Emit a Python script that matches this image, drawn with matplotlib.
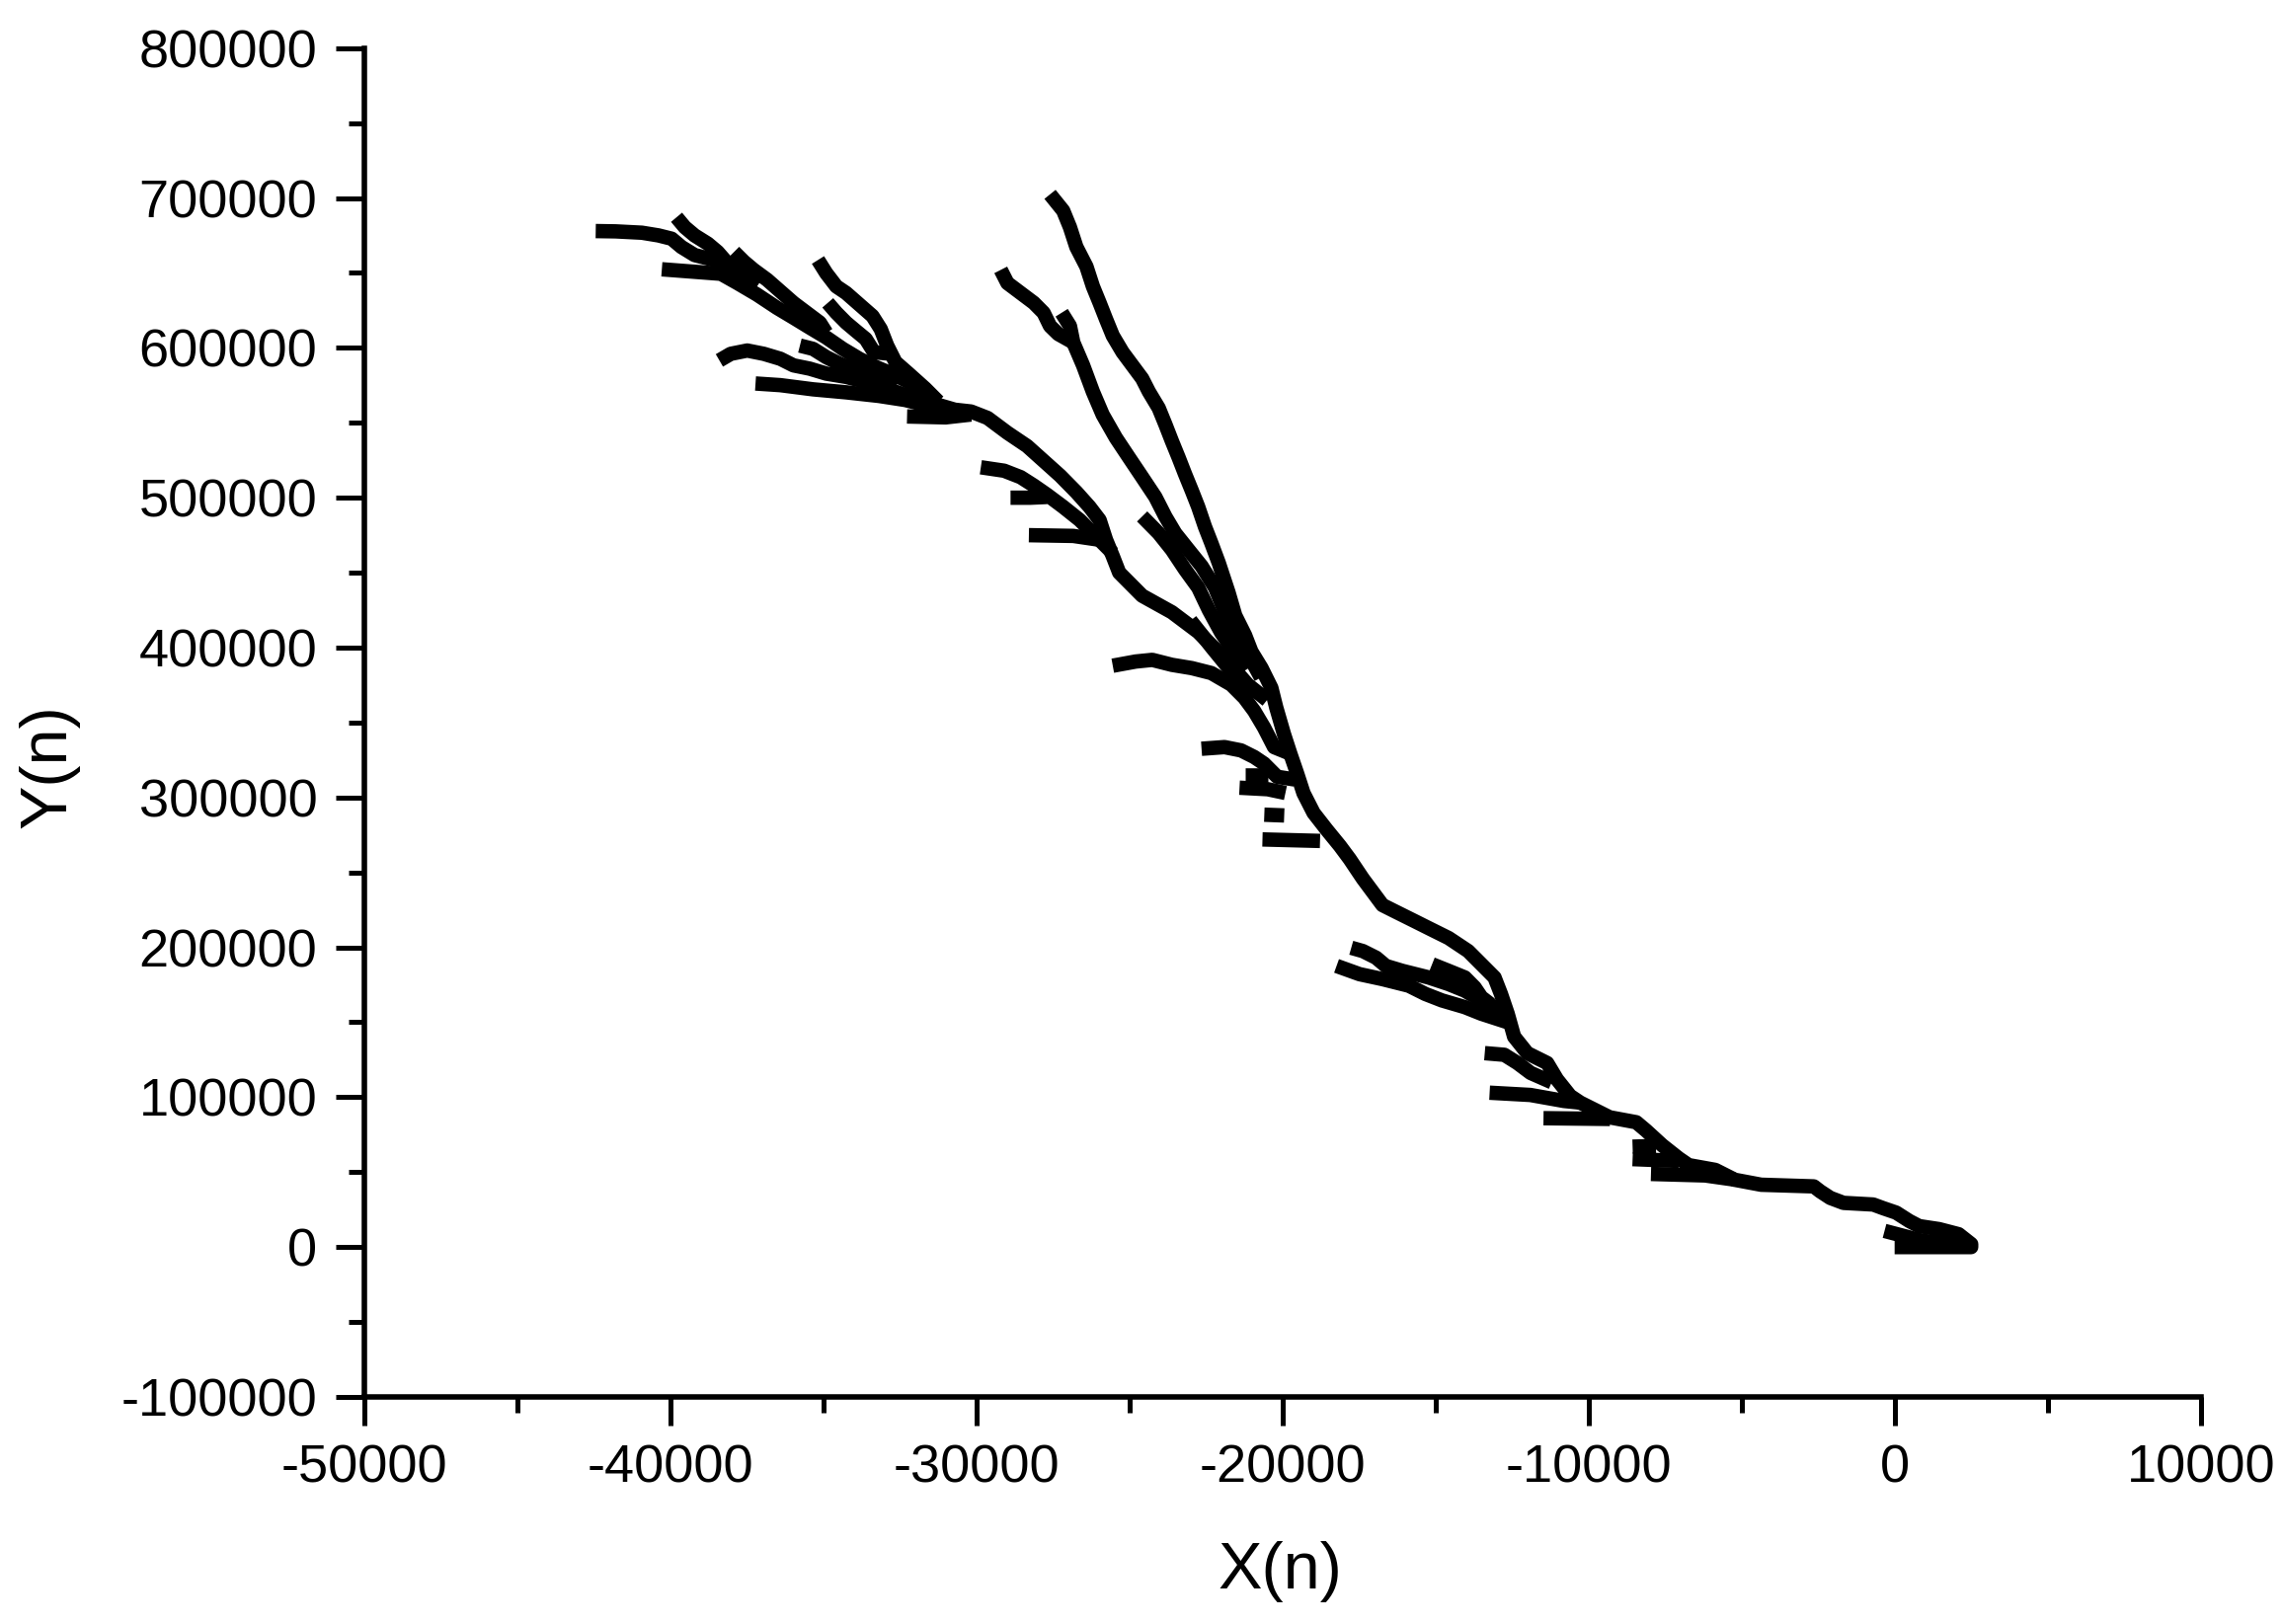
import matplotlib
matplotlib.use("Agg")
import matplotlib.pyplot as plt
from matplotlib.ticker import MultipleLocator, FuncFormatter

plt.rcParams['font.family'] = ['Liberation Sans', 'DejaVu Sans']
plt.rcParams['axes.unicode_minus'] = False

# main trunk, from the origin up to the top tip
trunk_x = [0, 2500, 2500, 2090, 1450, 800, 480, 50, -380, -700, -1670, -2100, -2430, -2640,
           -4360, -5220, -5860, -6730, -7050, -7590, -8120, -8440, -9310, -10270, -10600,
           -11030, -11350, -12000, -12430, -12640, -12860, -13070, -13500, -13930, -14570,
           -15220, -15650, -16300, -16730, -17050, -17370, -17800, -18120, -18560, -18980,
           -19310, -19520, -19740, -19950, -20200, -20360, -20680, -21010, -21220, -21540,
           -21760, -22080, -22320, -22530, -22750, -22960, -23180, -23390, -23610, -23820,
           -24040, -24360, -24580, -24900, -25220, -25540, -25760, -25970, -26190, -26400,
           -26730, -26940, -27160, -27590]
trunk_y = [0, 0, 2000, 8600, 12000, 14000, 17400, 23000, 26000, 28400, 29500, 32800, 37200, 40500,
           41600, 44900, 51500, 54700, 59200, 67900, 77800, 83300, 86600, 96400, 100900,
           111900, 122800, 129400, 140400, 155700, 168900, 179900, 188700, 197500, 206200,
           212800, 217200, 223800, 228200, 237000, 245800, 258900, 267700, 278700, 289700,
           302900, 316100, 329200, 342400, 360000, 373100, 386300, 397300, 408300, 421400,
           436800, 456600, 469700, 480700, 493900, 504800, 515800, 526800, 537800, 548800,
           559800, 570700, 579500, 588300, 597100, 608100, 619100, 630000, 641000, 654200,
           667300, 680500, 691500, 702400]

# long left limb
limb_x = [-40270, -38340, -37800, -37160, -36510, -35970, -35440, -34900, -34360, -33820, -33280,
          -32640, -32100, -31670, -31240, -30700, -30170, -29630, -28980, -28340, -27800, -27260,
          -26730, -26300, -25970, -25760, -25540, -25330, -24580, -23610, -22750, -21890, -21130,
          -20500]
limb_y = [652400, 649400, 643200, 635500, 626700, 620100, 613500, 606900, 599300, 592700, 587200,
          581700, 576200, 569700, 561900, 558700, 557500, 553200, 543300, 534500, 524600, 514700,
          503700, 493900, 485100, 471900, 461000, 450000, 434600, 423600, 410400, 392900, 375300,
          365000]

l1_x = [-42430, -41780, -40920, -40380, -39950, -39630, -39200, -38560, -38020, -37300]
l1_y = [677900, 677700, 676800, 675000, 672800, 667300, 661900, 658600, 654200, 641000]

l2_x = [-39790, -39520, -39200, -38770, -38450, -38120, -37800, -37160]
l2_y = [687100, 680500, 675000, 669500, 664000, 656300, 649800, 641000]

l3_x = [-37910, -37590, -37270, -36830, -36400, -35970, -35540, -35110, -34900]
l3_y = [664000, 657500, 652000, 645400, 637700, 630000, 623400, 616800, 610000]

l4_x = [-35170, -34900, -34570, -34250, -33820, -33390, -33120, -32910, -32640, -32210, -31670, -31240]
l4_y = [658600, 649800, 641000, 636600, 628900, 621200, 612500, 601500, 590500, 582800, 572900, 564100]

l5_x = [-34850, -34570, -34250, -33930, -33610, -33340, -32780]
l5_y = [630000, 623400, 616800, 611300, 605900, 597100, 596000]

l6_x = [-38390, -38020, -37480, -36940, -36400, -35970, -35440, -34900, -34250, -33610, -32960,
        -32320, -31670]
l6_y = [591600, 596000, 598200, 596000, 592700, 588300, 586100, 582800, 580600, 577300, 572900,
        568500, 566000]

l7_x = [-35760, -35330, -34900, -34470, -33930, -33390, -32600]
l7_y = [601500, 599300, 593800, 589400, 585000, 581700, 575000]

l8_x = [-37210, -36400, -35330, -34250, -33180, -32320, -31670, -31030]
l8_y = [576200, 575100, 572300, 570300, 567900, 565200, 561900, 559800]

band2_x = [-29850, -29090, -28550, -28120, -27690, -27160, -26620, -26190, -25540]
band2_y = [520300, 518000, 513700, 508100, 502000, 493900, 485100, 476300, 463000]

b_x = [-27210, -26940, -26830, -26510, -26190, -25870, -25440, -25010, -24580, -24150, -23820,
       -23500, -23070, -22640, -22200, -21900, -21500, -21100, -20700]
b_y = [623400, 614600, 603600, 588300, 570700, 555400, 540000, 526800, 513700, 500500, 487300,
       476300, 465300, 454400, 440000, 425000, 410000, 395000, 380000]

c_x = [-29200, -28980, -28550, -28120, -27800, -27590, -27320, -26830]
c_y = [652000, 643200, 636600, 630000, 623400, 614600, 609200, 603600]

d_x = [-24580, -24040, -23610, -23180, -22750, -22400, -22000, -21600, -21200]
d_y = [487500, 476300, 465300, 452100, 440000, 425000, 410000, 398000, 385000]

e_x = [-23000, -22300, -21700, -20900]
e_y = [418000, 400000, 385000, 368000]

m1_x = [-25540, -24790, -24250, -23610, -22960, -22320, -21670, -21240, -20920, -20600, -20270, -19740]
m1_y = [387900, 390700, 391800, 388500, 386300, 383000, 375300, 366500, 357700, 346700, 333600, 329200]

m2_x = [-22640, -21890, -21350, -20920, -20600, -20170, -19600]
m2_y = [332500, 333600, 331400, 327000, 322600, 313800, 312000]

n1a_x = [-17750, -17370, -16940, -16620, -16080, -15650, -15220, -14570, -14040, -13500, -13070, -12640]
n1a_y = [199700, 197500, 193100, 187600, 184300, 182100, 179900, 175500, 171100, 164600, 160100, 155700]

n1b_x = [-18230, -17480, -16730, -15870, -15330, -14790, -14040, -13500, -12640]
n1b_y = [187600, 182100, 178800, 174400, 168900, 164600, 160100, 155700, 150000]

n2_x = [-15110, -14570, -14040, -13720, -13500, -13200]
n2_y = [188700, 184300, 179900, 173300, 166700, 162000]

n3_x = [-13390, -12750, -12320, -11890, -11200]
n3_y = [129400, 128300, 122800, 116200, 110000]

# short side stubs
stubs_x = [[-32260, -31000, -30170], [-28880, -28230, -27690], [-28280, -26830, -26000],
           [-21230, -20480], [-21400, -20480, -19900], [-20590, -19940], [-20650, -18770],
           [-13230, -11900, -10800, -10270], [-11470, -9300], [-8560, -7800],
           [-8560, -7050], [-7960, -6190, -5220], [-330, 900, 2200]]
stubs_y = [[554200, 553600, 555500], [500000, 500000, 500500], [475000, 474500, 472000],
           [315000, 315000], [306500, 305500, 303000], [288500, 288000], [272000, 271000],
           [103000, 101500, 97500, 96400], [86000, 85500], [67000, 67500],
           [58700, 57500], [48800, 47800, 45000], [10800, 4200, 1500]]

fig = plt.figure(figsize=(23.11, 16.45), dpi=100)
ax = fig.add_axes([0.1595, 0.1398, 0.8049, 0.8306])

style = dict(color='black', linewidth=10.5, solid_capstyle='butt', solid_joinstyle='round')
branches = [(trunk_x, trunk_y), (limb_x, limb_y), (l1_x, l1_y), (l2_x, l2_y), (l3_x, l3_y),
            (l4_x, l4_y), (l5_x, l5_y), (l6_x, l6_y), (l7_x, l7_y), (l8_x, l8_y),
            (band2_x, band2_y), (b_x, b_y), (c_x, c_y), (d_x, d_y), (e_x, e_y),
            (m1_x, m1_y), (m2_x, m2_y),
            (n1a_x, n1a_y), (n1b_x, n1b_y), (n2_x, n2_y), (n3_x, n3_y)]
branches += list(zip(stubs_x, stubs_y))
for bx, by in branches:
    ax.plot(bx, by, **style)

ax.set_xlim(-50000, 10000)
ax.set_ylim(-100000, 800000)
ax.xaxis.set_major_locator(MultipleLocator(10000))
ax.xaxis.set_minor_locator(MultipleLocator(5000))
ax.yaxis.set_major_locator(MultipleLocator(100000))
ax.yaxis.set_minor_locator(MultipleLocator(50000))
fmt = FuncFormatter(lambda v, p: '%d' % v)
ax.xaxis.set_major_formatter(fmt)
ax.yaxis.set_major_formatter(fmt)

for side in ['top', 'right']:
    ax.spines[side].set_visible(False)
for side in ['left', 'bottom']:
    ax.spines[side].set_linewidth(4)

ax.tick_params(which='major', direction='out', length=21, width=3.6, labelsize=39, pad=13)
ax.tick_params(which='minor', direction='out', length=11.5, width=3.6)

fig.text(0.5612, 0.032, 'X(n)', fontsize=48, ha='center', va='center')
fig.text(0.0216, 0.528, 'Y(n)', fontsize=48, ha='center', va='center', rotation=90)

fig.savefig('out.png', dpi=100)
